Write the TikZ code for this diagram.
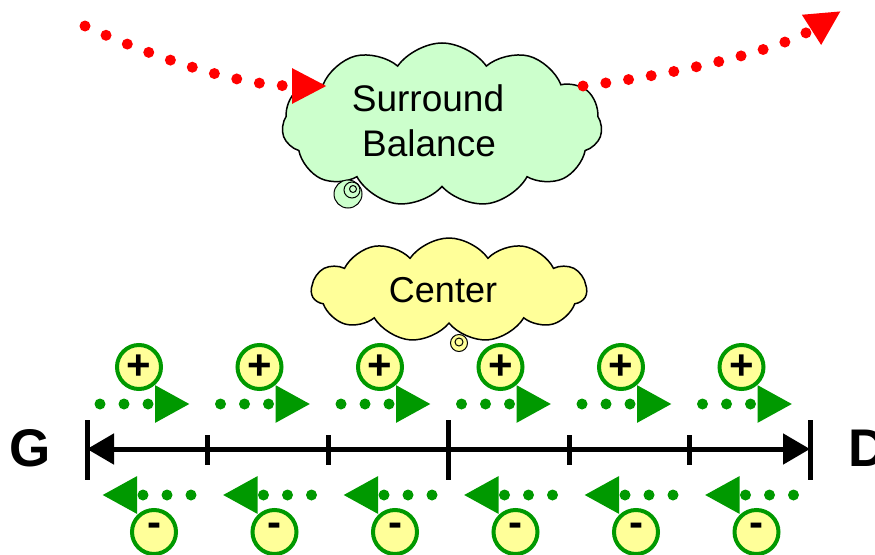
\documentclass[tikz,border=0pt]{standalone}
\usepackage{fontspec}
\setmainfont{Liberation Sans}
\usetikzlibrary{positioning,shapes.symbols,arrows.meta}

\definecolor{cloudgreen}{RGB}{204,255,204}
\definecolor{cloudyellow}{RGB}{255,255,153}
\definecolor{dotgreen}{RGB}{0,153,0}

\tikzset{
	cloudbox/.style={cloud,cloud puffs=11,cloud puff arc=110,cloud ignores aspect,draw,line width=1.5pt,align=center,inner sep=0pt},
	bubble/.style={circle,draw,line width=1pt,inner sep=0pt},
	plus/.style={circle,draw=dotgreen,fill=cloudyellow,line width=4pt,minimum size=44pt,inner sep=0pt,font=\fontsize{42}{42}\selectfont\bfseries},
	minus/.style={plus,text height=0.82em,text depth=0pt},
	gdots/.style={dotgreen,line width=11pt,line cap=round,dash pattern=on 0pt off 24pt,-{Triangle[length=35pt,width=35pt]}},
	rdots/.style={red,line width=11pt,line cap=round,dash pattern=on 0pt off 23pt,-{Triangle[length=35pt,width=33pt]}},
	axis/.style={line width=5pt},
	letter/.style={font=\fontsize{53}{53}\selectfont\bfseries,inner sep=0pt}
}

\begin{document}
\begin{tikzpicture}[x=1pt,y=-1pt]
		\useasboundingbox (0,0) rectangle (875,554);

		% clouds
		\node[cloudbox,fill=cloudgreen,minimum width=320pt,minimum height=164pt,font=\fontsize{37}{45}\selectfont,text depth=8pt]	(sb)	at (442,125)	{\hspace*{-28pt}Surround\\\hspace*{-26pt}Balance};
		\node[bubble,fill=cloudgreen,minimum size=28pt]	(sb1)	at (348,194)	{};
		\node[bubble,minimum size=16pt]					(sb2)	at (352,190)	{};
		\node[bubble,minimum size=7pt]					(sb3)	at (353,189)	{};

		\node[cloudbox,fill=cloudyellow,minimum width=275pt,minimum height=104pt,font=\fontsize{36}{40}\selectfont]	(c)		at (449,290)	{\hspace*{-12pt}Center};
		\node[bubble,fill=cloudyellow,minimum size=17pt]	(c1)	at (459,343)	{};
		\node[bubble,minimum size=8pt]					(c2)	at (459,342)	{};

		% red paths
		\coordinate (r0) at (85,26);
		\coordinate (r1) at (327,86);
		\coordinate (r2) at (583,86);
		\coordinate (r3) at (841,11);
		\draw[rdots] (r0) .. controls (160,60) and (240,86) .. (r1);
		\draw[rdots] (r2) .. controls (680,74) and (780,50) .. (r3);

		% axis
		\node[letter]				(g)		at (30,448)		{G};
		\node[letter,anchor=west]	(d)		at (848,448)	{D};
		\coordinate (a0) at (87,449);
		\coordinate (a6) at (810,449);
		\draw[axis,{Triangle[length=27pt,width=30pt]}-{Triangle[length=27pt,width=30pt]}] (a0) -- (a6);
		\draw[axis] (87,420) -- (87,480);
		\draw[axis] (448.5,420) -- (448.5,480);
		\draw[axis] (810,420) -- (810,480);
		\draw[axis] (207.5,435) -- (207.5,465);
		\draw[axis] (328,435) -- (328,465);
		\draw[axis] (569,435) -- (569,465);
		\draw[axis] (689.5,435) -- (689.5,465);

		% plus charges
		\node[plus]		(p1)	at (139,367)	{+};
		\node[plus]		(p2)	at (259.5,367)	{+};
		\node[plus]		(p3)	at (380,367)	{+};
		\node[plus]		(p4)	at (500.5,367)	{+};
		\node[plus]		(p5)	at (621,367)	{+};
		\node[plus]		(p6)	at (741.5,367)	{+};
		\draw[gdots] ([shift={(-39,37)}]p1.center) -- ([shift={(51,37)}]p1.center);
		\draw[gdots] ([shift={(-39,37)}]p2.center) -- ([shift={(51,37)}]p2.center);
		\draw[gdots] ([shift={(-39,37)}]p3.center) -- ([shift={(51,37)}]p3.center);
		\draw[gdots] ([shift={(-39,37)}]p4.center) -- ([shift={(51,37)}]p4.center);
		\draw[gdots] ([shift={(-39,37)}]p5.center) -- ([shift={(51,37)}]p5.center);
		\draw[gdots] ([shift={(-39,37)}]p6.center) -- ([shift={(51,37)}]p6.center);

		% minus charges
		\node[minus]	(m1)	at (154,532)	{-};
		\node[minus]	(m2)	at (274.5,532)	{-};
		\node[minus]	(m3)	at (395,532)	{-};
		\node[minus]	(m4)	at (515.5,532)	{-};
		\node[minus]	(m5)	at (636,532)	{-};
		\node[minus]	(m6)	at (756.5,532)	{-};
		\draw[gdots] ([shift={(37,-37)}]m1.center) -- ([shift={(-52,-37)}]m1.center);
		\draw[gdots] ([shift={(37,-37)}]m2.center) -- ([shift={(-52,-37)}]m2.center);
		\draw[gdots] ([shift={(37,-37)}]m3.center) -- ([shift={(-52,-37)}]m3.center);
		\draw[gdots] ([shift={(37,-37)}]m4.center) -- ([shift={(-52,-37)}]m4.center);
		\draw[gdots] ([shift={(37,-37)}]m5.center) -- ([shift={(-52,-37)}]m5.center);
		\draw[gdots] ([shift={(37,-37)}]m6.center) -- ([shift={(-52,-37)}]m6.center);
	\end{tikzpicture}
\end{document}
